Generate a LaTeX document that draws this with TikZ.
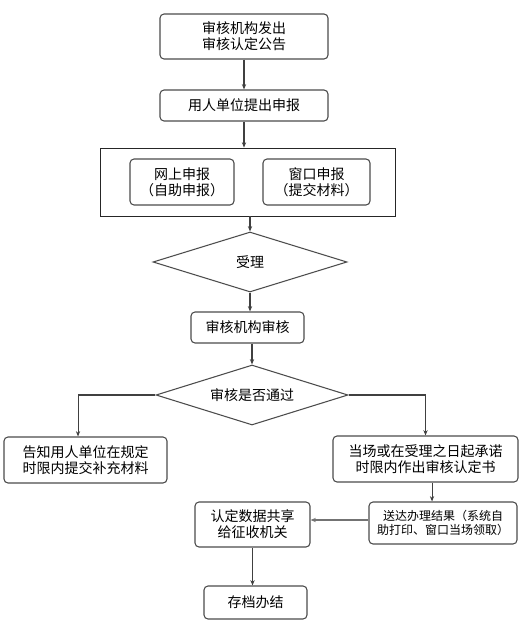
\documentclass[tikz,border=0pt]{standalone}
\usepackage{fontspec}
\setmainfont{Noto Sans CJK SC}
\usetikzlibrary{arrows.meta,shapes.geometric}
\begin{document}
\begin{tikzpicture}[x=0.75pt,y=-0.75pt,
  box/.style={draw=black!70, line width=0.8pt, rounded corners=3pt, align=center, inner sep=0pt,
              font=\fontsize{10.5pt}{12pt}\selectfont},
  dia/.style={draw=black!70, line width=0.8pt, diamond, shape aspect=3.2, inner sep=0pt,
              font=\fontsize{10.5pt}{12pt}\selectfont},
  arr/.style={draw=black!75, line width=0.8pt, -{Stealth[length=4pt,width=3.2pt]}},
]
\useasboundingbox (0,0) rectangle (522,635);

\node[box, minimum width=126pt, minimum height=33.75pt] (b1) at (244,36.5) {审核机构发出\\审核认定公告};
\node[box, minimum width=126pt, minimum height=23.25pt] (b2) at (244,105.5) {用人单位提出申报};
\node[draw=black!85, line width=0.6pt, minimum width=221.25pt, minimum height=51pt, inner sep=0pt] (big) at (247.5,182) {};
\node[box, minimum width=78pt, minimum height=34.5pt] (net) at (182,182) {网上申报\\（自助申报）};
\node[box, minimum width=80.25pt, minimum height=34.5pt] (win) at (316.5,182) {窗口申报\\（提交材料）};
\node[dia, minimum width=145.5pt, minimum height=45pt] (d1) at (250,262) {受理};
\node[box, minimum width=84.75pt, minimum height=23.25pt] (b3) at (247.5,327.5) {审核机构审核};
\node[dia, minimum width=144pt, minimum height=45pt] (d2) at (252,395) {审核是否通过};
\node[box, minimum width=122.25pt, minimum height=34.5pt] (bl) at (85.5,460) {告知用人单位在规定\\时限内提交补充材料};
\node[box, minimum width=138.75pt, minimum height=34.5pt] (br) at (425.5,459) {当场或在受理之日起承诺\\时限内作出审核认定书};
\node[box, minimum width=111pt, minimum height=31.5pt, font=\fontsize{9pt}{11pt}\selectfont] (sd) at (443,523) {送达办理结果（系统自\\助打印、窗口当场领取）};
\node[box, minimum width=86.25pt, minimum height=33.75pt] (rd) at (252.5,524.5) {认定数据共享\\给征收机关};
\node[box, minimum width=77.25pt, minimum height=24.75pt] (cd) at (255.5,602.5) {存档办结};

\draw[arr] (b1.south) -- (b2.north);
\draw[arr] (b2.south) -- (b2.south |- big.north);
\draw[arr] (big.south -| d1.north) -- (d1.north);
\draw[arr] (d1.south) -- (d1.south |- b3.north);
\draw[arr] (b3.south -| d2.north) -- (d2.north);
\draw[arr] (d2.west) -| ([xshift=-5.6pt]bl.north);
\draw[arr] (d2.east) -| (br.north);
\draw[arr] ([xshift=4.9pt]br.south) -- ([xshift=4.9pt]br.south |- sd.north);
\draw[arr, draw=black!55] (sd.west |- 0,520) -- (rd.east |- 0,520);
\draw[arr] (rd.south) -- (rd.south |- cd.north);
\end{tikzpicture}
\end{document}
